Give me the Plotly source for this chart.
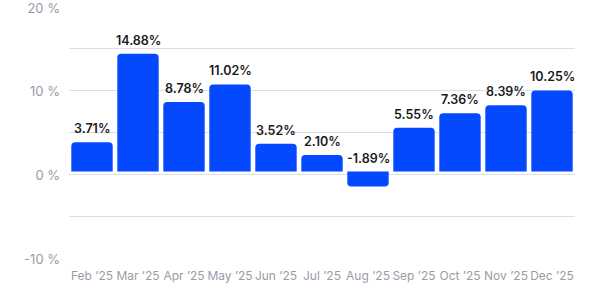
import plotly.graph_objects as go

months = ["Feb \u201925", "Mar \u201925", "Apr \u201925", "May \u201925", "Jun \u201925", "Jul \u201925",
          "Aug \u201925", "Sep \u201925", "Oct \u201925", "Nov \u201925", "Dec \u201925"]
values = [3.71, 14.88, 8.78, 11.02, 3.52, 2.10, -1.89, 5.55, 7.36, 8.39, 10.25]
grid_vals = [-10, -5, 0, 5, 10, 15, 20]
grid_text = ["-10 %", "", "0 %", "", "10 %", "", "20 %"]

BLUE = "#0549ff"
GRID = "#dddde3"
AXIS_TXT = "#9b9ba8"
FONT = "Inter"

fig = go.Figure()
# invisible helper trace for the grid axis
fig.add_trace(go.Scatter(x=months, y=[None] * len(months), yaxis="y",
                         showlegend=False, hoverinfo="skip"))
fig.add_trace(go.Bar(
    x=months, y=values, yaxis="y2",
    marker=dict(color=BLUE, cornerradius=4, line=dict(width=0)),
    showlegend=False,
))

for m, v in zip(months, values):
    fig.add_annotation(
        x=m, y=max(v, 0), xref="x", yref="y2",
        text=f"{v:.2f}%", showarrow=False, yanchor="bottom", yshift=4,
        font=dict(family=FONT, size=12.5, color="#1a1a1a", weight=600),
    )

fig.update_layout(
    width=600, height=308,
    margin=dict(l=69, r=25, t=0, b=50),
    paper_bgcolor="white", plot_bgcolor="white",
    bargap=0.1,
    xaxis=dict(
        type="category", range=[-0.5, 10.5], showgrid=False, zeroline=False,
        showline=False, ticks="", ticklabelstandoff=9, tickangle=0,
        tickfont=dict(family=FONT, size=12, color=AXIS_TXT),
    ),
    yaxis=dict(
        range=[-10, 20.12], tickvals=grid_vals, ticktext=grid_text,
        showgrid=True, gridcolor=GRID, gridwidth=1, zeroline=False,
        showline=False, ticks="", ticklabelstandoff=8, ticklabelshift=1,
        ticklabeloverflow="allow",
        tickfont=dict(family=FONT, size=13, color=AXIS_TXT),
    ),
    yaxis2=dict(
        range=[-10.93, 20.93], overlaying="y", side="left", visible=False,
        showgrid=False, zeroline=False,
    ),
)

fig.write_html("out.html")
